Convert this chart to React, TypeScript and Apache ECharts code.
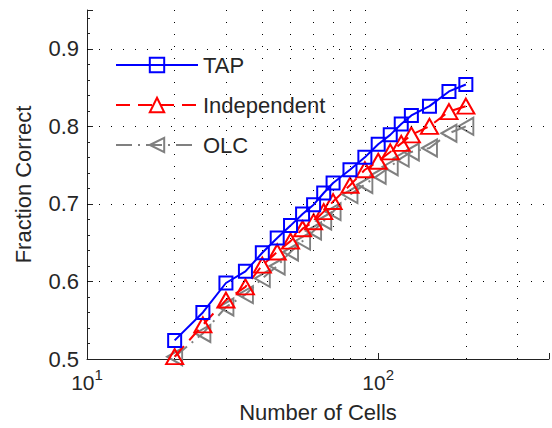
import React, { useEffect, useRef } from "react";
import * as echarts from "echarts";

const cells = [20, 25, 30, 35, 40, 45, 50, 55, 60, 65, 70, 80, 90, 100, 110, 120, 130, 150, 175, 200];
const tapValues = [0.524, 0.56, 0.598, 0.613, 0.637, 0.656, 0.672, 0.687, 0.699, 0.714, 0.727, 0.744, 0.76, 0.777, 0.789, 0.803, 0.814, 0.826, 0.845, 0.854];
const independentValues = [0.503, 0.544, 0.576, 0.593, 0.621, 0.638, 0.652, 0.668, 0.677, 0.69, 0.703, 0.724, 0.744, 0.755, 0.767, 0.778, 0.789, 0.8, 0.819, 0.826];
const olcValues = [0.503, 0.533, 0.567, 0.583, 0.604, 0.62, 0.638, 0.652, 0.665, 0.678, 0.69, 0.712, 0.725, 0.737, 0.748, 0.759, 0.767, 0.772, 0.791, 0.8];
const xGridValues = [20, 30, 40, 50, 60, 70, 80, 90, 200, 300];
const yGridValues = [0.6, 0.7, 0.8, 0.9];
const seriesNames = ["TAP", "Independent", "OLC"];

const FONT = "'Liberation Sans', Arial, Helvetica, sans-serif";
const TEXT = "#262626";

export default function App() {
  const ref = useRef<HTMLDivElement>(null);
  useEffect(() => {
    if (!ref.current) return;
    const chart = echarts.init(ref.current, null, { renderer: "svg" });
    const pairs = (vals: number[]) => cells.map((c, i) => [c, vals[i]]);
    const dotted = { type: [1, 11] as any, color: "#000", width: 1 };
    chart.setOption({
      animation: false,
      backgroundColor: "#fff",
      grid: { left: 87, top: 10, right: 0, bottom: 69, containLabel: false },
      legend: {
        orient: "vertical",
        left: 110,
        top: 49,
        itemWidth: 82,
        itemHeight: 18,
        itemGap: 18,
        data: seriesNames,
        textStyle: { fontSize: 22, color: TEXT, fontFamily: FONT },
      },
      xAxis: {
        type: "log",
        logBase: 10,
        min: 10,
        max: 386,
        name: "Number of Cells",
        nameLocation: "middle",
        nameGap: 42,
        nameTextStyle: { fontSize: 22, color: TEXT, fontFamily: FONT },
        axisLine: { lineStyle: { color: "#222", width: 1 } },
        axisTick: { inside: true, length: 6, lineStyle: { color: "#222" } },
        splitLine: { show: false },
        minorTick: { show: false },
        axisLabel: {
          margin: 8,
          formatter: (v: number) => (Math.abs(v - 10) < 1e-6 ? "{a|10}{b|1}" : Math.abs(v - 100) < 1e-6 ? "{a|10}{b|2}" : ""),
          rich: {
            a: { fontSize: 21, lineHeight: 21, padding: [10, 0, 0, 0], color: TEXT, fontFamily: FONT },
            b: { fontSize: 15, lineHeight: 15, verticalAlign: "top", color: TEXT, fontFamily: FONT },
          },
        },
      },
      yAxis: {
        type: "value",
        min: 0.5,
        max: 0.95,
        interval: 0.1,
        name: "Fraction Correct",
        nameLocation: "middle",
        nameGap: 53,
        nameTextStyle: { fontSize: 22, color: TEXT, fontFamily: FONT },
        axisLine: { show: true, lineStyle: { color: "#222", width: 1 } },
        axisTick: { show: true, inside: true, length: 6, lineStyle: { color: "#222" } },
        minorTick: { show: true, splitNumber: 5, length: 3, lineStyle: { color: "#222" } },
        splitLine: { show: false },
        axisLabel: {
          margin: 8,
          fontSize: 22,
          color: TEXT,
          fontFamily: FONT,
          formatter: (v: number) => (Math.round(v * 100) % 10 === 0 ? v.toFixed(1) : ""),
        },
      },
      series: [
        {
          name: "",
          type: "line",
          data: [[10, 0.5]],
          symbol: "none",
          lineStyle: { opacity: 0 },
          silent: true,
          z: 1,
          markLine: {
            silent: true,
            symbol: "none",
            label: { show: false },
            lineStyle: dotted,
            data: [
              ...xGridValues.map((v) => ({ xAxis: v })),
              ...yGridValues.map((v) => ({ yAxis: v })),
            ],
          },
        },
        {
          name: "TAP",
          type: "line",
          data: pairs(tapValues),
          symbol: "rect",
          symbolSize: 13,
          z: 5,
          lineStyle: { color: "#0000ff", width: 2 },
          itemStyle: { color: "rgba(255,255,255,0)", borderColor: "#0000ff", borderWidth: 2 },
        },
        {
          name: "Independent",
          type: "line",
          data: pairs(independentValues),
          symbol: "triangle",
          symbolSize: [17, 15],
          z: 4,
          lineStyle: { color: "#ff0000", width: 2, type: [14, 8] },
          itemStyle: { color: "rgba(255,255,255,0)", borderColor: "#ff0000", borderWidth: 2 },
        },
        {
          name: "OLC",
          type: "line",
          data: pairs(olcValues),
          symbol: "triangle",
          symbolRotate: 90,
          symbolSize: [17, 15],
          z: 3,
          lineStyle: { color: "#808080", width: 2, type: [16, 6, 2, 6] },
          itemStyle: { color: "rgba(255,255,255,0)", borderColor: "#808080", borderWidth: 2 },
        },
      ],
    });
    return () => chart.dispose();
  }, []);
  return <div ref={ref} style={{ position: "fixed", left: 0, top: 0, width: 552, height: 428 }} />;
}
